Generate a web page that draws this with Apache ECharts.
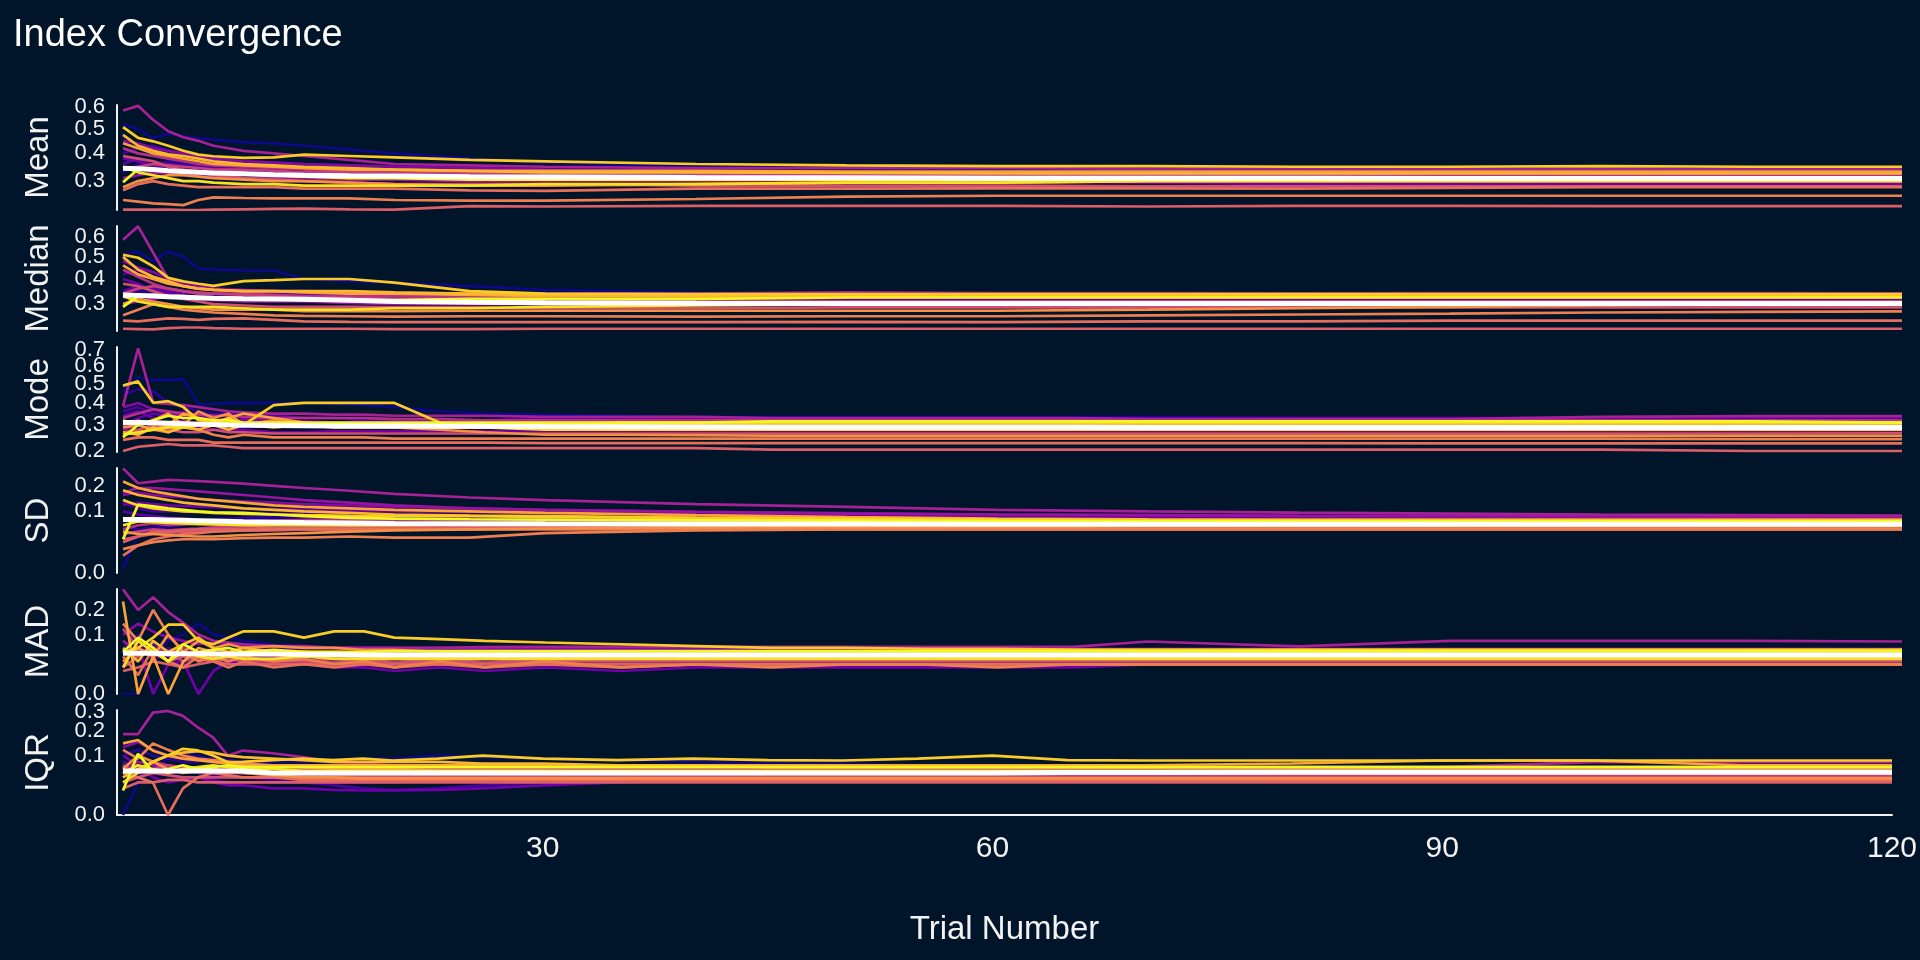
<!DOCTYPE html>
<html><head><meta charset="utf-8">
<script src="https://cdn.jsdelivr.net/npm/echarts@6/dist/echarts.min.js"></script>
<style>html,body{margin:0;padding:0;background:#001529;}#c{width:1920px;height:960px;}</style>
</head><body><div id="c"></div>
<script>
// ---- trial breakpoints ----
const trialsA = [2,3,4,5,6,7,8,10,12,14,17,20,25,30,40,50,60,70,80,90,100,110,120];
const trialsB = [2,3,4,5,6,7,8,9,10,12,14,16,18,20,23,26,30,35,40,45,50,55,60,65,70,80,90,100,110,120];

// ---- Mean panel (trialsA) ----
const meanLines = [
[.52,.50,.46,.48,.47,.46,.455,.445,.44,.43,.415,.40,.38,.365,.35,.345,.34,.335,.33,.33,.33,.325,.325],
[.33,.36,.35,.37,.36,.35,.345,.34,.335,.33,.325,.32,.315,.31,.305,.30,.30,.295,.295,.29,.29,.29,.29],
[.40,.42,.43,.41,.40,.39,.38,.37,.365,.36,.355,.35,.345,.34,.335,.33,.33,.325,.325,.32,.32,.32,.32],
[.36,.38,.37,.36,.355,.35,.345,.34,.33,.33,.325,.32,.32,.315,.31,.31,.31,.305,.305,.305,.30,.30,.30],
[.38,.37,.355,.35,.34,.335,.33,.33,.325,.32,.32,.315,.31,.31,.305,.30,.30,.295,.29,.29,.29,.29,.29],
[.45,.44,.42,.41,.40,.39,.38,.37,.365,.36,.355,.35,.345,.34,.335,.33,.33,.33,.33,.325,.325,.325,.325],
[.31,.32,.33,.325,.32,.32,.315,.31,.31,.31,.305,.305,.30,.30,.30,.30,.30,.30,.30,.30,.30,.30,.30],
[.583,.605,.54,.49,.465,.45,.43,.41,.40,.39,.375,.36,.355,.35,.345,.345,.345,.342,.342,.341,.341,.341,.341],
[.42,.40,.39,.38,.37,.36,.355,.35,.345,.34,.34,.335,.33,.33,.325,.325,.32,.32,.32,.32,.32,.32,.32],
[.34,.35,.36,.355,.35,.345,.34,.34,.335,.33,.33,.33,.325,.32,.32,.315,.315,.315,.31,.31,.31,.31,.31],
[.39,.38,.37,.35,.34,.33,.32,.31,.305,.30,.295,.29,.29,.29,.285,.285,.285,.283,.283,.283,.283,.283,.283],
[.212,.212,.212,.212,.211,.211,.212,.213,.214,.215,.213,.212,.222,.221,.223,.223,.223,.221,.223,.223,.222,.222,.222],
[.27,.29,.30,.29,.285,.28,.28,.28,.28,.275,.275,.275,.27,.268,.275,.275,.276,.276,.275,.278,.28,.28,.28],
[.24,.235,.23,.228,.225,.24,.248,.246,.245,.245,.245,.24,.238,.238,.243,.25,.253,.253,.253,.253,.253,.253,.253],
[.28,.30,.31,.32,.32,.315,.31,.305,.30,.30,.295,.29,.285,.285,.29,.295,.295,.30,.30,.30,.30,.30,.30],
[.44,.42,.40,.39,.38,.37,.36,.355,.35,.345,.34,.34,.335,.335,.335,.333,.333,.333,.333,.333,.333,.333,.333],
[.475,.43,.41,.396,.39,.38,.37,.36,.355,.35,.345,.34,.335,.33,.33,.328,.326,.326,.326,.326,.326,.326,.326],
[.508,.462,.448,.43,.41,.395,.389,.383,.385,.395,.39,.385,.375,.37,.36,.355,.352,.352,.35,.35,.352,.35,.35],
[.35,.33,.32,.31,.30,.30,.295,.29,.29,.285,.285,.285,.285,.29,.29,.295,.295,.30,.30,.30,.30,.30,.30],
[.296,.341,.34,.335,.335,.33,.33,.325,.32,.315,.31,.31,.305,.305,.305,.305,.305,.305,.305,.305,.305,.305,.305]
];
const meanWhite = [.345,.343,.34,.336,.333,.33,.328,.325,.322,.32,.318,.317,.315,.314,.312,.311,.31,.31,.31,.309,.309,.309,.309];

// ---- Median panel (trialsA) ----
const medianLines = [
[.51,.526,.479,.526,.50,.445,.442,.437,.437,.40,.39,.385,.37,.355,.344,.335,.33,.325,.32,.32,.315,.315,.315],
[.32,.35,.34,.36,.35,.34,.335,.33,.33,.32,.32,.315,.31,.31,.305,.30,.30,.30,.30,.30,.30,.30,.30],
[.42,.44,.40,.38,.37,.36,.36,.35,.345,.34,.335,.335,.33,.33,.325,.32,.32,.318,.318,.318,.318,.318,.318],
[.35,.37,.36,.35,.34,.345,.34,.335,.33,.33,.325,.32,.32,.315,.31,.31,.31,.31,.31,.31,.31,.31,.31],
[.40,.38,.35,.34,.33,.32,.32,.32,.315,.315,.31,.31,.31,.315,.32,.32,.318,.318,.318,.318,.318,.318,.318],
[.48,.45,.43,.40,.38,.37,.36,.355,.35,.35,.345,.34,.34,.335,.335,.335,.335,.335,.335,.335,.335,.335,.335],
[.30,.31,.32,.33,.325,.32,.315,.31,.31,.31,.305,.30,.30,.30,.30,.30,.30,.30,.30,.30,.30,.30,.30],
[.585,.656,.52,.40,.37,.36,.355,.35,.35,.345,.345,.34,.34,.34,.34,.345,.342,.342,.341,.342,.342,.342,.3415],
[.44,.41,.38,.36,.35,.345,.34,.34,.335,.33,.33,.33,.325,.325,.325,.325,.325,.325,.325,.325,.325,.325,.325],
[.34,.36,.37,.36,.35,.34,.34,.335,.33,.325,.325,.32,.32,.315,.315,.31,.31,.31,.31,.31,.31,.31,.31],
[.38,.37,.35,.33,.32,.31,.30,.295,.29,.29,.29,.288,.288,.285,.285,.288,.288,.288,.288,.288,.288,.288,.288],
[.216,.215,.214,.218,.22,.22,.218,.216,.216,.216,.216,.215,.215,.216,.216,.216,.216,.216,.216,.216,.216,.216,.216],
[.242,.24,.245,.25,.248,.245,.248,.25,.245,.24,.238,.237,.237,.237,.237,.238,.237,.24,.24,.242,.242,.242,.242],
[.26,.28,.30,.29,.28,.275,.27,.265,.26,.258,.257,.256,.257,.257,.256,.257,.257,.26,.263,.266,.27,.272,.274],
[.30,.32,.31,.30,.29,.285,.28,.28,.28,.275,.275,.275,.276,.276,.276,.276,.276,.28,.285,.29,.295,.30,.30],
[.46,.42,.40,.38,.37,.36,.355,.35,.35,.345,.34,.34,.335,.33,.33,.33,.33,.33,.33,.33,.33,.33,.33],
[.50,.44,.41,.39,.37,.36,.355,.35,.35,.35,.35,.345,.34,.335,.33,.33,.33,.33,.33,.33,.33,.33,.33],
[.51,.496,.456,.405,.39,.38,.371,.391,.395,.40,.40,.385,.35,.34,.338,.338,.338,.338,.338,.338,.338,.338,.338],
[.33,.31,.30,.29,.29,.29,.29,.285,.28,.28,.28,.285,.285,.29,.295,.30,.30,.30,.30,.305,.305,.305,.305],
[.29,.33,.335,.33,.33,.325,.325,.32,.32,.315,.315,.315,.32,.32,.32,.325,.325,.325,.325,.325,.325,.325,.325]
];
const medianWhite = [.335,.333,.331,.328,.326,.324,.322,.32,.319,.318,.315,.31,.307,.305,.303,.302,.302,.302,.302,.302,.3025,.3025,.3025];

// ---- Mode panel (trialsB) ----
const modeLines = [
[.459,.531,.52,.52,.525,.393,.395,.40,.40,.40,.40,.395,.39,.38,.36,.35,.345,.34,.335,.335,.335,.335,.335,.335,.335,.33,.33,.33,.33,.33],
[.44,.47,.46,.40,.38,.36,.35,.35,.34,.34,.33,.33,.32,.32,.315,.31,.31,.31,.30,.30,.30,.30,.30,.30,.29,.28,.28,.28,.276,.276],
[.36,.38,.35,.34,.33,.35,.33,.32,.32,.31,.31,.30,.30,.30,.30,.30,.30,.30,.30,.30,.30,.30,.30,.30,.30,.30,.30,.30,.30,.30],
[.30,.33,.35,.34,.36,.34,.33,.35,.33,.34,.33,.33,.32,.32,.32,.32,.33,.33,.33,.33,.33,.33,.33,.33,.33,.33,.33,.33,.33,.33],
[.34,.36,.33,.30,.30,.29,.28,.28,.28,.27,.27,.275,.275,.275,.275,.275,.275,.275,.275,.275,.275,.275,.275,.275,.275,.275,.275,.275,.275,.275],
[.38,.40,.37,.35,.34,.33,.33,.32,.32,.32,.315,.31,.31,.31,.31,.31,.31,.31,.31,.31,.31,.31,.31,.31,.31,.31,.31,.31,.31,.31],
[.28,.30,.31,.30,.32,.30,.31,.30,.30,.30,.30,.30,.295,.295,.29,.29,.29,.29,.29,.29,.29,.29,.29,.29,.29,.29,.29,.29,.29,.29],
[.385,.711,.40,.395,.39,.38,.37,.36,.355,.35,.35,.345,.345,.34,.34,.34,.335,.335,.335,.33,.33,.33,.33,.33,.325,.325,.325,.335,.338,.338],
[.33,.35,.37,.36,.35,.345,.34,.34,.335,.33,.33,.33,.33,.325,.325,.32,.32,.32,.32,.32,.32,.32,.32,.32,.32,.32,.32,.32,.32,.32],
[.30,.32,.30,.29,.30,.31,.30,.30,.30,.30,.30,.30,.30,.30,.30,.30,.305,.305,.30,.30,.30,.30,.30,.30,.30,.30,.30,.30,.30,.30],
[.27,.28,.30,.28,.27,.27,.28,.27,.27,.265,.265,.265,.265,.265,.265,.265,.265,.265,.265,.265,.265,.265,.265,.265,.265,.265,.265,.265,.265,.266],
[.20,.215,.22,.225,.22,.22,.22,.215,.21,.21,.21,.21,.21,.21,.21,.21,.21,.21,.21,.205,.205,.205,.205,.205,.205,.205,.205,.205,.20,.20],
[.24,.25,.25,.24,.24,.24,.23,.23,.23,.23,.23,.23,.23,.23,.23,.23,.228,.228,.228,.228,.228,.228,.228,.228,.228,.228,.227,.227,.227,.227],
[.26,.27,.28,.27,.30,.28,.26,.25,.26,.25,.25,.25,.25,.245,.245,.245,.245,.245,.245,.245,.245,.245,.245,.245,.245,.245,.245,.245,.243,.243],
[.29,.30,.32,.35,.30,.36,.33,.35,.30,.32,.30,.30,.29,.29,.28,.27,.26,.26,.258,.256,.256,.256,.256,.256,.256,.256,.256,.256,.256,.256],
[.32,.30,.28,.30,.35,.33,.30,.33,.35,.33,.31,.30,.30,.30,.29,.29,.30,.30,.31,.30,.31,.30,.31,.30,.30,.31,.31,.31,.31,.31],
[.27,.26,.29,.27,.29,.28,.30,.28,.30,.29,.30,.30,.30,.29,.30,.29,.30,.30,.30,.30,.30,.30,.30,.30,.30,.30,.30,.30,.30,.30],
[.489,.512,.401,.409,.38,.32,.31,.33,.30,.39,.40,.40,.40,.40,.31,.30,.30,.31,.31,.31,.31,.31,.31,.31,.31,.31,.31,.31,.31,.31],
[.26,.27,.28,.29,.29,.30,.30,.31,.30,.30,.30,.29,.29,.29,.29,.29,.28,.28,.28,.28,.28,.28,.28,.28,.28,.28,.28,.28,.28,.28],
[.25,.30,.32,.34,.33,.33,.32,.32,.31,.31,.31,.31,.31,.31,.31,.31,.31,.31,.31,.315,.315,.315,.315,.315,.315,.315,.315,.315,.315,.31]
];
const modeWhite = [.31,.31,.309,.307,.305,.303,.302,.30,.299,.298,.297,.296,.296,.296,.295,.294,.293,.292,.291,.29,.29,.29,.29,.29,.289,.289,.289,.289,.289,.289];

// ---- SD panel (trialsA) ----
const sdLines = [
[.0005,.04,.05,.055,.06,.065,.07,.075,.08,.082,.083,.082,.08,.078,.075,.073,.072,.071,.07,.07,.07,.07,.07],
[.06,.05,.055,.06,.065,.07,.075,.08,.085,.085,.085,.085,.083,.08,.078,.075,.073,.072,.072,.071,.07,.07,.07],
[.13,.11,.10,.10,.10,.098,.095,.095,.093,.092,.09,.088,.085,.083,.08,.078,.076,.075,.074,.074,.073,.073,.073],
[.10,.09,.085,.08,.078,.075,.072,.07,.068,.067,.066,.065,.064,.063,.063,.063,.063,.063,.063,.063,.063,.063,.063],
[.123,.13,.125,.12,.118,.116,.114,.11,.107,.105,.103,.10,.097,.095,.09,.087,.085,.083,.082,.081,.08,.08,.079],
[.16,.17,.16,.155,.15,.145,.14,.135,.13,.125,.12,.115,.11,.105,.098,.094,.09,.088,.086,.085,.084,.083,.082],
[.17,.19,.19,.185,.18,.175,.17,.16,.15,.14,.13,.12,.11,.105,.098,.093,.09,.088,.086,.085,.084,.083,.082],
[.288,.212,.22,.228,.225,.222,.218,.21,.20,.19,.178,.165,.15,.14,.125,.115,.105,.10,.096,.093,.09,.088,.087],
[.05,.06,.065,.06,.062,.065,.068,.07,.072,.074,.075,.075,.074,.073,.072,.071,.07,.07,.069,.069,.068,.068,.068],
[.04,.045,.05,.048,.05,.052,.055,.058,.06,.062,.063,.064,.064,.064,.064,.064,.064,.064,.064,.064,.064,.064,.064],
[.03,.035,.04,.042,.045,.045,.046,.047,.048,.05,.05,.05,.052,.054,.056,.057,.057,.058,.058,.058,.058,.058,.058],
[.025,.035,.045,.045,.048,.05,.05,.052,.053,.054,.055,.055,.056,.057,.058,.058,.058,.058,.058,.058,.058,.058,.058],
[.008,.02,.03,.035,.04,.042,.045,.048,.05,.05,.05,.05,.05,.05,.05,.05,.05,.05,.05,.05,.05,.05,.05],
[.015,.02,.025,.028,.03,.03,.03,.032,.033,.033,.035,.033,.033,.042,.048,.05,.05,.05,.05,.05,.05,.05,.05],
[.045,.04,.04,.038,.036,.035,.035,.038,.04,.042,.045,.048,.05,.052,.054,.055,.056,.057,.057,.057,.057,.057,.057],
[.22,.19,.175,.165,.155,.145,.14,.13,.12,.115,.11,.105,.10,.095,.088,.082,.078,.076,.075,.075,.075,.075,.075],
[.18,.16,.15,.14,.13,.125,.12,.11,.105,.10,.095,.09,.087,.085,.08,.077,.075,.073,.072,.071,.07,.07,.07],
[.14,.12,.11,.105,.10,.098,.095,.092,.09,.088,.086,.085,.085,.083,.08,.078,.076,.074,.073,.072,.072,.072,.072],
[.06,.07,.068,.066,.065,.063,.062,.06,.06,.06,.06,.06,.062,.063,.064,.065,.065,.065,.065,.065,.065,.065,.065],
[.03,.123,.117,.11,.105,.10,.097,.095,.09,.085,.08,.078,.076,.075,.073,.072,.071,.07,.07,.07,.07,.07,.07]
];
const sdWhite = [.0753,.0753,.075,.074,.073,.072,.071,.069,.068,.067,.066,.0645,.064,.0635,.063,.063,.0628,.0625,.0625,.0625,.0625,.0625,.0625];

// ---- MAD panel (trialsB) ----
const madLines = [
[0,0,.04,.08,.10,.14,.10,.09,.08,.07,.065,.06,.055,.05,.05,.048,.045,.045,.045,.045,.045,.045,.045,.045,.045,.045,.045,.045,.045,.045],
[.06,.10,.05,.04,.03,.05,.04,.05,.045,.05,.045,.05,.05,.055,.06,.06,.055,.055,.05,.05,.05,.05,.05,.05,.05,.05,.05,.05,.05,.05],
[.12,.08,.03,.06,.04,.05,.06,.05,.06,.055,.06,.06,.06,.06,.055,.055,.055,.055,.055,.055,.055,.055,.055,.055,.055,.055,.055,.052,.052,.052],
[.03,.05,.07,.04,.05,.03,.04,.03,.035,.03,.04,.035,.04,.035,.04,.04,.04,.04,.04,.04,.04,.04,.04,.04,.04,.04,.04,.04,.04,.04],
[.025,.065,0,.025,.03,0,.015,.03,.025,.03,.025,.02,.02,.015,.02,.015,.02,.015,.02,.02,.02,.02,.02,.02,.025,.025,.025,.025,.025,.025],
[.10,.14,.11,.09,.08,.07,.075,.07,.065,.065,.06,.06,.06,.06,.06,.058,.058,.058,.058,.058,.058,.058,.058,.058,.058,.058,.058,.058,.058,.058],
[.08,.05,.06,.04,.05,.04,.045,.04,.045,.04,.04,.04,.04,.04,.04,.04,.04,.04,.04,.04,.04,.04,.04,.04,.04,.04,.04,.04,.04,.04],
[.31,.20,.265,.19,.143,.10,.08,.075,.07,.065,.065,.06,.06,.06,.06,.062,.063,.063,.063,.063,.063,.063,.063,.063,.078,.064,.08,.08,.08,.078],
[.05,.04,.06,.05,.06,.05,.055,.05,.05,.05,.05,.05,.048,.048,.048,.048,.048,.048,.048,.048,.048,.048,.048,.048,.048,.048,.048,.048,.048,.048],
[.12,.06,.04,.05,.03,.04,.035,.04,.035,.035,.03,.035,.03,.035,.03,.035,.03,.035,.035,.035,.035,.035,.035,.035,.035,.035,.035,.035,.035,.035],
[.02,.04,.06,.03,.04,.035,.03,.035,.03,.03,.03,.028,.03,.028,.03,.028,.03,.03,.03,.03,.03,.03,.03,.03,.03,.03,.03,.03,.03,.03],
[.015,.02,.03,.025,.02,.025,.03,.025,.025,.025,.025,.025,.025,.025,.025,.025,.025,.025,.025,.025,.025,.025,.025,.025,.025,.025,.025,.025,.025,.025],
[.04,.01,.06,.03,.02,.04,.03,.02,.03,.02,.025,.02,.025,.02,.025,.02,.025,.02,.025,.025,.025,.025,.025,.025,.025,.025,.025,.025,.025,.025],
[.14,.08,.20,.10,.05,.03,.04,.03,.04,.03,.035,.025,.03,.02,.03,.02,.03,.02,.025,.02,.025,.025,.02,.025,.025,.025,.025,.025,.025,.025],
[.03,.06,.04,.10,.05,.08,.06,.07,.06,.065,.06,.06,.055,.055,.05,.05,.05,.05,.05,.05,.05,.05,.05,.05,.05,.05,.05,.05,.05,.05],
[.242,0,.041,0,.03,.06,.05,.04,.05,.045,.04,.04,.04,.038,.038,.038,.038,.038,.038,.038,.038,.038,.038,.038,.038,.038,.038,.038,.038,.038],
[.06,.03,.08,.05,.07,.09,.06,.05,.06,.05,.05,.045,.045,.045,.045,.045,.045,.045,.045,.045,.045,.045,.045,.045,.045,.045,.045,.045,.045,.045],
[.05,.06,.09,.136,.136,.08,.07,.09,.111,.111,.09,.111,.111,.09,.085,.08,.075,.07,.065,.06,.06,.058,.058,.056,.056,.056,.056,.056,.056,.056],
[.02,.08,.05,.03,.05,.04,.035,.04,.035,.035,.04,.035,.035,.035,.035,.035,.035,.035,.035,.035,.035,.035,.035,.035,.035,.035,.035,.035,.035,.035],
[.05,.09,.06,.03,.07,.05,.055,.06,.05,.055,.05,.05,.05,.052,.052,.052,.052,.052,.052,.052,.052,.052,.052,.052,.052,.052,.052,.052,.052,.052]
];
const madWhite = [.047,.047,.047,.046,.046,.046,.045,.045,.045,.045,.044,.044,.043,.043,.043,.043,.043,.043,.043,.043,.043,.043,.043,.043,.043,.043,.043,.043,.043,.043];

// ---- IQR panel (trialsB) ----
const iqrLines = [
[0,.03,.06,.09,.11,.10,.09,.085,.08,.08,.08,.085,.09,.09,.10,.095,.09,.085,.08,.075,.075,.07,.07,.07,.065,.065,.065,.065,.065,.065],
[.10,.12,.10,.09,.08,.08,.09,.085,.08,.07,.06,.055,.05,.05,.05,.05,.05,.05,.05,.05,.05,.05,.05,.05,.05,.05,.05,.05,.05,.05],
[.05,.04,.06,.05,.055,.05,.045,.04,.04,.035,.03,.025,.02,.018,.02,.025,.03,.03,.035,.035,.035,.035,.035,.035,.035,.035,.035,.035,.035,.035],
[.08,.06,.05,.045,.04,.04,.035,.03,.03,.03,.03,.03,.03,.03,.035,.035,.04,.04,.04,.04,.04,.04,.04,.04,.04,.04,.04,.04,.04,.04],
[.10,.07,.04,.03,.035,.04,.03,.025,.025,.02,.02,.018,.017,.017,.018,.02,.025,.03,.035,.035,.04,.04,.04,.04,.04,.04,.04,.04,.04,.04],
[.13,.15,.12,.10,.09,.085,.08,.075,.07,.07,.065,.065,.065,.065,.065,.065,.065,.065,.065,.065,.065,.065,.065,.065,.065,.065,.065,.065,.065,.065],
[.06,.08,.07,.06,.06,.055,.05,.05,.05,.05,.05,.05,.048,.048,.048,.048,.048,.048,.048,.048,.048,.048,.048,.048,.048,.048,.048,.048,.048,.048],
[.1855,.1855,.2966,.3063,.2779,.2167,.1704,.10,.1174,.108,.0946,.08,.075,.07,.065,.06,.058,.055,.055,.055,.055,.055,.055,.055,.055,.06,.065,.079,.079,.079],
[.04,.06,.08,.07,.065,.06,.06,.06,.06,.06,.06,.06,.06,.06,.06,.06,.06,.06,.06,.06,.06,.06,.06,.06,.06,.06,.06,.06,.06,.06],
[.07,.05,.06,.07,.06,.055,.05,.05,.05,.045,.045,.045,.045,.045,.045,.045,.045,.045,.045,.045,.045,.045,.045,.045,.045,.045,.045,.045,.045,.045],
[.03,.04,.05,.045,.04,.04,.04,.04,.04,.04,.04,.04,.04,.04,.04,.04,.04,.04,.04,.04,.04,.04,.04,.04,.04,.04,.04,.04,.04,.04],
[.02,.03,.03,.035,.035,.03,.03,.03,.03,.03,.03,.03,.03,.03,.03,.03,.03,.03,.03,.03,.03,.03,.03,.03,.03,.03,.03,.03,.03,.03],
[.05,.04,.03,0,.02,.04,.05,.045,.04,.04,.035,.035,.035,.035,.035,.035,.035,.035,.035,.035,.035,.035,.035,.035,.035,.035,.035,.035,.035,.035],
[.12,.09,.145,.12,.10,.09,.085,.08,.075,.07,.065,.06,.06,.06,.055,.055,.055,.05,.05,.05,.05,.05,.05,.05,.05,.05,.05,.05,.05,.05],
[.06,.10,.08,.06,.05,.055,.06,.055,.05,.045,.04,.04,.038,.038,.038,.038,.038,.038,.038,.038,.038,.038,.038,.038,.038,.038,.038,.038,.038,.038],
[.145,.159,.117,.10,.09,.085,.08,.075,.07,.07,.07,.07,.07,.07,.07,.07,.07,.07,.07,.07,.07,.07,.07,.07,.07,.075,.084,.084,.07,.07],
[.04,.06,.08,.10,.11,.115,.11,.10,.095,.09,.085,.08,.08,.08,.08,.075,.075,.07,.07,.065,.065,.065,.065,.065,.065,.065,.065,.065,.065,.065],
[.03,.05,.08,.10,.124,.118,.10,.079,.08,.085,.09,.085,.09,.084,.09,.10,.09,.085,.09,.085,.084,.09,.10,.085,.084,.084,.084,.084,.084,.084],
[.05,.07,.06,.05,.06,.065,.07,.065,.06,.06,.055,.055,.055,.055,.055,.055,.055,.055,.055,.055,.055,.055,.055,.055,.055,.055,.055,.055,.055,.055],
[.017,.106,.052,.06,.07,.06,.065,.07,.065,.065,.065,.065,.065,.065,.065,.065,.065,.065,.065,.065,.065,.065,.065,.065,.065,.065,.065,.065,.065,.065]
];
const iqrWhite = [.0545,.0545,.0545,.0545,.0545,.0545,.0545,.0545,.0545,.05,.05,.05,.05,.05,.05,.05,.05,.05,.05,.05,.05,.05,.05,.051,.051,.052,.052,.052,.052,.052];

// ---- axis tick labels ----
const panelNames = ['Mean','Median','Mode','SD','MAD','IQR'];
const meanTicks = [0.3,0.4,0.5,0.6];
const medianTicks = [0.3,0.4,0.5,0.6];
const modeTicks = [0.2,0.3,0.4,0.5,0.6,0.7];
const sdTicks = [0.0,0.1,0.2];
const madTicks = [0.0,0.1,0.2];
const iqrTicks = [0.0,0.1,0.2,0.3];
const xTicks = [30,60,90,120];
const yRanges = [[0.211,0.609],[0.209,0.658],[0.1966,0.7195],[0,0.29],[0,0.312],[0,0.312]];

const panels = [
  {trials: trialsA, lines: meanLines, white: meanWhite, ticks: meanTicks},
  {trials: trialsA, lines: medianLines, white: medianWhite, ticks: medianTicks},
  {trials: trialsB, lines: modeLines, white: modeWhite, ticks: modeTicks},
  {trials: trialsA, lines: sdLines, white: sdWhite, ticks: sdTicks},
  {trials: trialsB, lines: madLines, white: madWhite, ticks: madTicks},
  {trials: trialsB, lines: iqrLines, white: iqrWhite, ticks: iqrTicks}
];
panels.forEach((p,i)=>{
  p.lines.forEach((l,j)=>{ if(l.length!==p.trials.length) throw new Error('len mismatch panel '+i+' line '+j+': '+l.length); });
  if(p.white.length!==p.trials.length) throw new Error('white len mismatch '+i);
});

// plasma palette
const plasmaStops = ['#0D0887','#47039F','#7301A8','#9C179E','#BD3786','#D8576B','#ED7953','#FA9E3B','#FDC926','#F0F921'];
function hex2rgb(h){return [parseInt(h.slice(1,3),16),parseInt(h.slice(3,5),16),parseInt(h.slice(5,7),16)];}
function plasma(t){
  const s = t*(plasmaStops.length-1); const i = Math.min(Math.floor(s), plasmaStops.length-2); const f = s-i;
  const a = hex2rgb(plasmaStops[i]), b = hex2rgb(plasmaStops[i+1]);
  const c = a.map((v,k)=>Math.round(v+(b[k]-v)*f));
  return 'rgb('+c.join(',')+')';
}
const nLines = 20;
const colors = Array.from({length:nLines},(_,j)=>plasma(j/(nLines-1)));

const FONT = 'Liberation Sans, Arial, sans-serif';
const TXT = '#f2f2f2';
const tops = [105,226,347,468,589,710];
const H = 105;

const grid = [], xAxis = [], yAxis = [], yAxis2 = [], series = [];
const labelStyle = {color:TXT, fontSize:22, fontFamily:FONT, margin:12, hideOverlap:false,
                    showMinLabel:true, showMaxLabel:true, formatter:(v)=>(v*v).toFixed(1)};
panels.forEach((p,i)=>{
  grid.push({left:117, right:18, top:tops[i], height:H, containLabel:false});
  const last = i===panels.length-1;
  xAxis.push({
    gridIndex:i, type:'value', min:1.6, max:120,
    axisLine:{show:last, onZero:false, lineStyle:{color:TXT, width:2}},
    axisTick:{show:false}, splitLine:{show:false},
    axisLabel:{show:last, customValues:xTicks, color:TXT, fontSize:30, fontFamily:FONT, margin:19,
               hideOverlap:false, alignMaxLabel:'center', alignMinLabel:'center'},
    name: last ? 'Trial Number' : '', nameLocation:'middle', nameGap:98,
    nameTextStyle:{color:TXT, fontSize:33, fontFamily:FONT}
  });
  const r = yRanges[i];
  const sq = p.ticks.map(Math.sqrt);
  // main axis: even-indexed tick labels, axis line and name
  yAxis.push({
    gridIndex:i, type:'value', min:Math.sqrt(r[0]), max:Math.sqrt(r[1]),
    axisLine:{show:true, onZero:false, lineStyle:{color:TXT, width:2}},
    axisTick:{show:false}, splitLine:{show:false},
    axisLabel:Object.assign({customValues:sq.filter((_,k)=>k%2===0)}, labelStyle),
    name: panelNames[i], nameLocation:'middle', nameGap:62, nameRotate:90,
    nameTextStyle:{color:TXT, fontSize:33, fontFamily:FONT}
  });
  // companion axis on the same grid: odd-indexed tick labels (avoids overlap hiding)
  yAxis2.push({
    gridIndex:i, type:'value', position:'left', offset:0, min:Math.sqrt(r[0]), max:Math.sqrt(r[1]),
    axisLine:{show:false, onZero:false}, axisTick:{show:false}, splitLine:{show:false},
    axisLabel:Object.assign({customValues:sq.filter((_,k)=>k%2===1)}, labelStyle)
  });
  p.lines.forEach((vals,j)=>{
    series.push({type:'line', xAxisIndex:i, yAxisIndex:i, symbol:'none', silent:true, animation:false,
      data: p.trials.map((t,k)=>[t, Math.sqrt(vals[k])]),
      lineStyle:{color:colors[j], width:2.7}, itemStyle:{color:colors[j]}, z:2});
  });
  series.push({type:'line', xAxisIndex:i, yAxisIndex:i, symbol:'none', silent:true, animation:false,
    data: p.trials.map((t,k)=>[t, Math.sqrt(p.white[k])]),
    lineStyle:{color:'#ffffff', width:5}, itemStyle:{color:'#ffffff'}, z:3});
});

const chart = echarts.init(document.getElementById('c'), null, {renderer:'canvas'});
chart.setOption({
  backgroundColor:'#001529',
  animation:false,
  title:{text:'Index Convergence', left:8, top:12,
         textStyle:{color:'#ffffff', fontSize:38, fontWeight:'normal', fontFamily:FONT}},
  grid, xAxis, yAxis: yAxis.concat(yAxis2), series
});
</script></body></html>
